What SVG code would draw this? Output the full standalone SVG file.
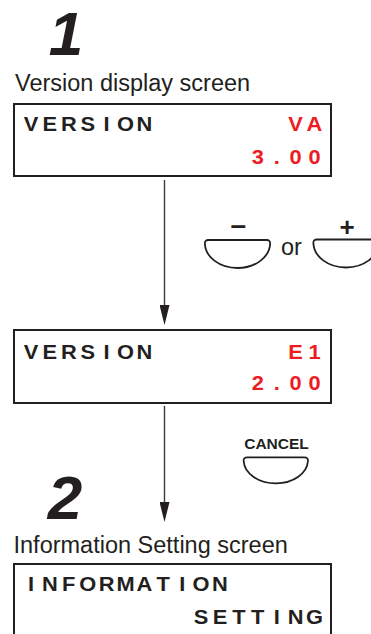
<svg xmlns="http://www.w3.org/2000/svg" width="371" height="634" viewBox="0 0 371 634">
<style>
.bg{fill:#ffffff}
.box{fill:#ffffff;stroke:#231f20;stroke-width:2}
.lcd{font-family:"Liberation Sans",Arial,sans-serif;font-weight:bold;font-size:19.5px;fill:#231f20;text-anchor:middle}
.red{fill:#ed1c24}
.cap{font-family:"Liberation Sans",Arial,sans-serif;font-size:23.5px;fill:#231f20}
.step{font-family:"Liberation Sans",Arial,sans-serif;font-weight:bold;font-style:italic;font-size:62px;fill:#231f20;text-anchor:middle}
.btn{fill:#ffffff;stroke:#231f20;stroke-width:1.8}
.key{font-family:"Liberation Sans",Arial,sans-serif;font-weight:bold;fill:#231f20;text-anchor:middle}
.conn{stroke:#3a3a3a;stroke-width:1.4;fill:none}
</style>
<defs>
<marker id="ah" viewBox="0 0 20 10" refX="15" refY="5" markerWidth="20" markerHeight="10" markerUnits="userSpaceOnUse" orient="auto">
<path d="M0,0 L20,5 L0,10 Z" fill="#231f20"/>
</marker>
<path id="btnShape" d="M4,0 H62 Q66,0 65.6,4 C65,17 51,28 33,28 C15,28 1,17 0.4,4 Q0,0 4,0 Z"/>
</defs>
<rect class="bg" x="0" y="0" width="371" height="634"/>

<g id="step1">
<text class="step" x="66" y="55">1</text>
</g>
<g id="label1">
<text class="cap" x="15" y="91">Version display screen</text>
</g>
<g id="screen1">
<rect class="box" x="14" y="104" width="317" height="72"/>
<g transform="scale(1.12,1)">
<text class="lcd" x="27.68 44.55 61.43 78.30 95.18 112.05 128.93" y="131.5">VERSION</text>
<text class="lcd red" x="263.93 280.80" y="131.5">VA</text>
<text class="lcd red" x="230.18 247.05 263.93 280.80" y="164.5">3.00</text>
</g>
</g>

<g id="btnMinus">
<use href="#btnShape" class="btn" transform="translate(204.5,240)"/>
<text class="key" x="238.3" y="233.6" font-size="28">–</text>
</g>
<g id="orLabel">
<text class="cap" x="281" y="255" font-size="24">or</text>
</g>
<g id="btnPlus">
<use href="#btnShape" class="btn" transform="translate(313,239.5)"/>
<text class="key" x="347" y="236" font-size="26">+</text>
</g>

<g id="screen2">
<rect class="box" x="14" y="330" width="317" height="73"/>
<g transform="scale(1.12,1)">
<text class="lcd" x="27.68 44.55 61.43 78.30 95.18 112.05 128.93" y="359.5">VERSION</text>
<text class="lcd red" x="263.93 280.80" y="359.5">E1</text>
<text class="lcd red" x="230.18 247.05 263.93 280.80" y="390.5">2.00</text>
</g>
</g>

<g id="btnCancel">
<text class="key" x="276.5" y="448.5" font-size="15.5">CANCEL</text>
<use href="#btnShape" class="btn" transform="translate(243.3,457.3) scale(0.985,0.93)"/>
</g>

<g id="step2">
<text class="step" x="65" y="519">2</text>
</g>
<g id="label2">
<text class="cap" x="13.5" y="553">Information Setting screen</text>
</g>
<g id="screen3">
<rect class="box" x="14" y="564" width="317" height="80"/>
<g transform="scale(1.12,1)">
<text class="lcd" x="27.68 44.55 61.43 78.30 95.18 112.05 128.93 145.80 162.68 179.55 196.43" y="591.5">INFORMATION</text>
<text class="lcd" x="179.55 196.43 213.30 230.18 247.05 263.93 280.80" y="624">SETTING</text>
</g>
</g>

<g id="connectors">
<line class="conn" x1="164.5" y1="180" x2="164.5" y2="320" marker-end="url(#ah)"/>
<line class="conn" x1="164.5" y1="406" x2="164.5" y2="517" marker-end="url(#ah)"/>
</g>
</svg>
